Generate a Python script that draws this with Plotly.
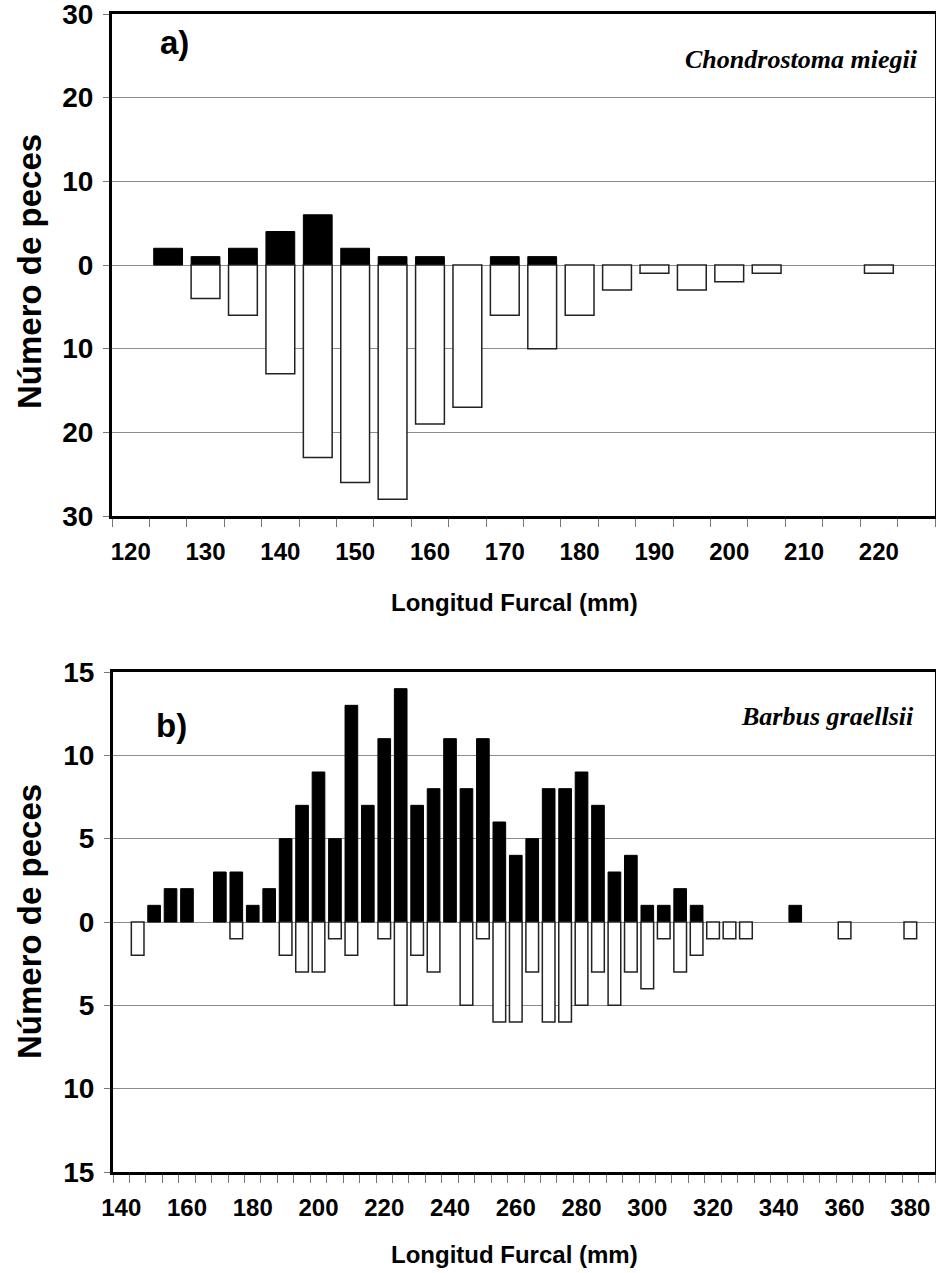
import plotly.graph_objects as go

# ---- a) Chondrostoma miegii : fish counts per 5 mm fork-length class ----
a_lengths = [120, 125, 130, 135, 140, 145, 150, 155, 160, 165, 170,
             175, 180, 185, 190, 195, 200, 205, 210, 215, 220, 225]
a_upper = [0, 2, 1, 2, 4, 6, 2, 1, 1, 0, 1,
           1, 0, 0, 0, 0, 0, 0, 0, 0, 0, 0]
a_lower = [0, 0, 4, 6, 13, 23, 26, 28, 19, 17, 6,
           10, 6, 3, 1, 3, 2, 1, 0, 0, 1, 0]
a_xticks = [120, 130, 140, 150, 160, 170, 180, 190, 200, 210, 220]
a_yticks = [-30, -20, -10, 0, 10, 20, 30]

# ---- b) Barbus graellsii ----
b_lengths = list(range(140, 390, 5))
b_upper = [0, 0, 1, 2, 2, 0, 3, 3, 1, 2,
           5, 7, 9, 5, 13, 7, 11, 14, 7, 8,
           11, 8, 11, 6, 4, 5, 8, 8, 9, 7,
           3, 4, 1, 1, 2, 1, 0, 0, 0, 0,
           0, 1, 0, 0, 0, 0, 0, 0, 0, 0]
b_lower = [0, 2, 0, 0, 0, 0, 0, 1, 0, 0,
           2, 3, 3, 1, 2, 0, 1, 5, 2, 3,
           0, 5, 1, 6, 6, 3, 6, 6, 5, 3,
           5, 3, 4, 1, 3, 2, 1, 1, 1, 0,
           0, 0, 0, 0, 1, 0, 0, 0, 1, 0]
b_xticks = [140, 160, 180, 200, 220, 240, 260, 280, 300, 320, 340, 360, 380]
b_yticks = [-15, -10, -5, 0, 5, 10, 15]

W, H = 936, 1273
SANS = "Liberation Sans"
SERIF = "Liberation Serif"


def px_x(p):
    return p / W


def px_y(p):
    return 1 - p / H


def nz(values, sign=1):
    # empty classes get no bar at all
    return [sign * v if v else None for v in values]


fig = go.Figure()

panels = [
    (a_lengths, a_upper, a_lower, "x", "y"),
    (b_lengths, b_upper, b_lower, "x2", "y2"),
]

for lengths, upper, lower, xa, ya in panels:
    fig.add_trace(go.Bar(
        x=lengths, y=nz(upper), xaxis=xa, yaxis=ya, width=5 * 0.77,
        marker=dict(color="black", line=dict(color="black", width=1)),
        showlegend=False, hoverinfo="skip"))
    fig.add_trace(go.Bar(
        x=lengths, y=nz(lower, -1), xaxis=xa, yaxis=ya, width=5 * 0.77,
        marker=dict(color="white", line=dict(color="#222222", width=1.5)),
        showlegend=False, hoverinfo="skip"))

common_x = dict(
    showgrid=False, zeroline=False, showline=True, mirror=True,
    linecolor="black", linewidth=3, ticks="",
    tickfont=dict(family=SANS, size=24, weight="bold", color="black"),
    ticklabelstandoff=12, ticklabeloverflow="allow",
)
common_y = dict(
    showgrid=True, gridcolor="#8c8c8c", gridwidth=1, zeroline=False,
    showline=True, mirror=True, linecolor="black", linewidth=3,
    ticks="outside", ticklen=6, tickcolor="#777777", tickwidth=1,
    tickfont=dict(family=SANS, size=28, weight="bold", color="black"),
    ticklabelstandoff=4, ticklabeloverflow="allow",
)

a_bounds = [a_lengths[0] - 2.5 + 5 * i for i in range(len(a_lengths) + 1)]
b_bounds = [b_lengths[0] - 2.5 + 5 * i for i in range(len(b_lengths) + 1)]

fig.update_layout(
    width=W, height=H, autosize=False,
    margin=dict(l=0, r=0, t=0, b=0, autoexpand=False),
    paper_bgcolor="white", plot_bgcolor="white",
    barmode="relative",
    xaxis=dict(common_x, domain=[px_x(112), px_x(935)], anchor="y",
               range=[a_bounds[0], a_bounds[-1]],
               tickmode="array", tickvals=a_xticks,
               ticktext=[str(v) for v in a_xticks],
               minor=dict(tickmode="array", tickvals=a_bounds, ticks="outside",
                          ticklen=8, tickcolor="#777777", tickwidth=1, showgrid=False)),
    yaxis=dict(common_y, domain=[px_y(516), px_y(14)], anchor="x",
               range=[-30, 30], tickmode="array", tickvals=a_yticks,
               ticktext=[str(abs(v)) for v in a_yticks]),
    xaxis2=dict(common_x, domain=[px_x(113), px_x(935)], anchor="y2",
                range=[b_bounds[0], b_bounds[-1]],
                tickmode="array", tickvals=b_xticks,
                ticktext=[str(v) for v in b_xticks],
                minor=dict(tickmode="array", tickvals=b_bounds, ticks="outside",
                           ticklen=8, tickcolor="#777777", tickwidth=1, showgrid=False)),
    yaxis2=dict(common_y, domain=[px_y(1172), px_y(672)], anchor="x2",
                range=[-15, 15], tickmode="array", tickvals=b_yticks,
                ticktext=[str(abs(v)) for v in b_yticks]),
)

ann = []
# panel letters
ann.append(dict(text="a)", x=px_x(158), y=px_y(43), xanchor="left", yanchor="middle",
                font=dict(family=SANS, size=33, weight="bold", color="black")))
ann.append(dict(text="b)", x=px_x(154), y=px_y(725), xanchor="left", yanchor="middle",
                font=dict(family=SANS, size=33, weight="bold", color="black")))
# species names
ann.append(dict(text="Chondrostoma miegii", x=px_x(920), y=px_y(60),
                xanchor="right", yanchor="middle",
                font=dict(family=SERIF, size=26, weight="bold", style="italic", color="black")))
ann.append(dict(text="Barbus graellsii", x=px_x(916), y=px_y(716),
                xanchor="right", yanchor="middle",
                font=dict(family=SERIF, size=26, weight="bold", style="italic", color="black")))
# axis titles
for yc in (272, 922):
    ann.append(dict(text="Número de peces", x=px_x(29), y=px_y(yc), textangle=-90,
                    xanchor="center", yanchor="middle",
                    font=dict(family=SANS, size=33, weight="bold", color="black")))
for yc in (602, 1254):
    ann.append(dict(text="Longitud Furcal (mm)", x=px_x(514), y=px_y(yc),
                    xanchor="center", yanchor="middle",
                    font=dict(family=SANS, size=24, weight="bold", color="black")))

for a in ann:
    a.update(xref="paper", yref="paper", showarrow=False)
fig.update_layout(annotations=ann)

fig.write_html("out.html")
